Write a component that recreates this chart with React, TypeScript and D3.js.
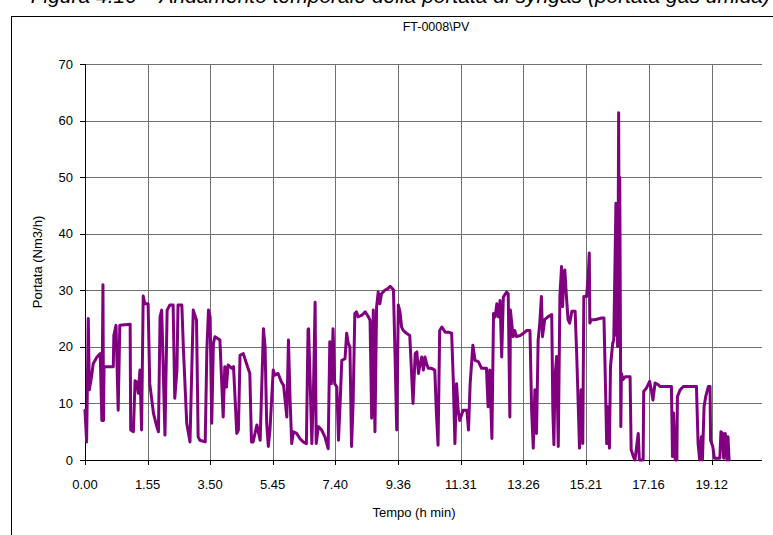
import * as d3 from "d3";

// time in minutes from start, flow in Nm3/h
const timeMin = [
  0, 3, 6, 8, 12, 15, 22, 28, 31, 33, 34, 35, 52, 53, 57, 61, 64, 83, 84, 89,
  92, 95, 98, 101, 104, 107, 110, 116, 119, 126, 132, 135, 138, 141, 147, 151,
  156, 162, 165, 169, 171, 178, 181, 187, 193, 199, 205, 208, 211, 221, 224,
  227, 230, 233, 236, 239, 248, 254, 257, 260, 263, 270, 273, 279, 282, 285,
  291, 297, 303, 306, 309, 316, 322, 328, 331, 334, 337, 340, 346, 349, 355,
  361, 365, 371, 374, 377, 380, 383, 389, 395, 401, 407, 410, 411, 414, 417,
  420, 423, 425, 429, 435, 441, 447, 450, 453, 456, 459, 463, 466, 469, 472,
  478, 481, 484, 487, 490, 493, 496, 499, 502, 509, 515, 521, 524, 527, 530,
  533, 536, 539, 542, 545, 551, 557, 561, 567, 570, 573, 576, 579, 582, 585,
  591, 597, 603, 607, 610, 613, 616, 619, 622, 625, 628, 631, 637, 643, 646,
  649, 652, 656, 662, 668, 674, 677, 680, 683, 686, 689, 695, 702, 705, 708,
  713, 717, 723, 729, 738, 741, 744, 748, 751, 754, 757, 760, 763, 766, 769,
  775, 778, 781, 782, 787, 790, 793, 800, 806, 812, 818, 821, 824, 827, 830,
  833, 836, 839, 841, 845, 852, 858, 860, 862, 864, 867, 870, 873, 876, 878,
  880, 882, 885, 888, 891, 895, 901, 904, 907, 909, 912, 915, 917, 922, 925,
  927, 928, 931, 937, 950, 954, 956, 959, 961, 964, 966, 970, 972, 974, 976,
  977, 978, 979, 980, 981, 982, 983, 985, 986, 989, 993, 1002, 1004, 1008,
  1011, 1014, 1017, 1019, 1026, 1027, 1032, 1038, 1041, 1044, 1048, 1054,
  1057, 1078, 1080, 1082, 1085, 1088, 1089, 1094, 1100, 1124, 1127, 1130,
  1133, 1135, 1138, 1141, 1146, 1149, 1150, 1154, 1157, 1167, 1169, 1172,
  1174, 1177, 1180, 1182, 1184,
];

const flow = [
  8.8, 3.2, 25, 12.4, 14.7, 17, 18.2, 18.8, 7, 31, 7, 16.5, 16.5, 22, 23.8,
  8.8, 23.8, 24, 5.3, 5, 14, 13.8, 11.8, 15.9, 5.3, 29, 27.6, 27.6, 13.5, 8.2,
  5.9, 5, 25.3, 26.5, 4.4, 26.5, 27.4, 27.4, 10.9, 15.9, 27.4, 27.4, 19.4, 6.5,
  3.2, 26.5, 24.7, 4.1, 3.5, 3.2, 19.4, 26.5, 25.3, 6.5, 20.6, 21.8, 21.2, 7.6,
  16.5, 12.9, 16.8, 16.2, 16.5, 4.7, 5.3, 18.5, 18.8, 17, 15.3, 3.2, 3.2, 6.2,
  3.5, 23.2, 20, 6.5, 2.4, 5.3, 15.9, 15, 15.3, 13.8, 13.2, 7.6, 21.2, 10.6,
  2.9, 5, 4.7, 3.8, 3.2, 2.9, 23, 23.2, 13.5, 2.9, 12.4, 27.9, 2.9, 5.9, 5.3,
  4.1, 2, 20.9, 13.5, 23.2, 13.5, 12.9, 3.5, 10, 17.6, 17.9, 22.4, 20.6, 20,
  2.4, 10.6, 25.9, 26.2, 25.3, 25.6, 26.2, 25.3, 24.7, 7.4, 26.5, 5, 27, 29.7,
  27.6, 29.4, 30, 30.3, 30.7, 30.1, 18.2, 5.3, 27.4, 26.2, 23.5, 22.9, 22.4,
  22, 10, 18.8, 19.1, 15.3, 17, 18.2, 15.9, 18.2, 17, 16.2, 16.2, 15.9, 8.2,
  2.6, 22.9, 23.5, 22.6, 22.6, 22.4, 14.1, 2.9, 13.5, 8.8, 7, 8.8, 8.8, 5.3,
  13.5, 20.3, 17.6, 17.4, 16.2, 16.2, 9.4, 15.9, 3.8, 25.9, 25.3, 27.6, 25.3,
  28.2, 18.2, 28.8, 29.7, 29.4, 7.6, 26.5, 21.8, 22.9, 21.8, 22, 22.4, 22.9,
  22.9, 8.8, 2.1, 12.4, 4.7, 21.2, 24.2, 28.9, 21.8, 24.8, 25.4, 25.7, 8.8,
  2.7, 14.7, 18.3, 2.4, 28.9, 34.2, 27.1, 32.4, 33.6, 28.9, 24.8, 24.2, 26.3,
  26.3, 18.3, 8.8, 2.1, 12.4, 2.9, 28.9, 28.9, 32.4, 36.6, 24.2, 24.8, 24.8,
  25.1, 25.1, 16.5, 2.9, 9.4, 2.1, 16.5, 20.6, 21.2, 33, 45.4, 22, 44, 20, 38,
  61.4, 30, 50, 5.9, 15.3, 14.2, 14.7, 14.7, 1.8, 0.6, 0, 2.4, 4.7, 0, 0, 12.1,
  12.7, 13.9, 12.4, 10.6, 13.6, 13.3, 13, 13, 0.6, 8.3, 0, 0, 11.2, 12.4, 13,
  13, 2.9, 0, 4.1, 0, 9.4, 11.2, 13, 13, 3.5, 2.4, 0.3, 0.3, 5, 4.7, 0.3, 4.7,
  0, 4.1, 0,
];

const xTickLabels = [
  "0.00", "1.55", "3.50", "5.45", "7.40", "9.36", "11.31", "13.26", "15.21",
  "17.16", "19.12",
];
const yTicks = [0, 10, 20, 30, 40, 50, 60, 70];

const W = 773;
const H = 535;
const margin = { l: 85, r: 11, t: 64, b: 75 };
const font = "'Liberation Sans', Arial, sans-serif";

// "h.mm" -> minutes
const toMin = (s: string) => {
  const [h, m] = s.split(".");
  return +h * 60 + +m;
};

export default function App() {
  const x = d3
    .scaleLinear()
    .domain([0, 1244.5])
    .range([margin.l, W - margin.r]);
  const y = d3
    .scaleLinear()
    .domain([0, 70])
    .range([H - margin.b, margin.t]);

  const data = timeMin.map((t, i) => ({ t, v: flow[i] }));
  const lineGen = d3
    .line<{ t: number; v: number }>()
    .x((d) => x(d.t))
    .y((d) => y(d.v));

  const x0 = x.range()[0];
  const x1 = x.range()[1];
  const yb = y(0);
  const yt = y(70);

  return (
    <svg
      width={W}
      height={H}
      style={{ position: "absolute", left: 0, top: 0, background: "#fff" }}
      fontFamily={font}
    >
      <rect x={0} y={0} width={W} height={H} fill="#fff" />
      {/* caption, cut off by the page edge */}
      <text x={770} y={3} fontSize={21} fontStyle="italic" textAnchor="end" fill="#000">
        Figura 4.10 – Andamento temporale della portata di syngas (portata gas umida)
      </text>
      {/* chart frame */}
      <rect
        x={11.5}
        y={16.5}
        width={W + 10}
        height={H + 10}
        fill="none"
        stroke="#000"
        strokeWidth={1}
      />
      <text x={436} y={31} fontSize={12.5} textAnchor="middle">
        FT-0008\PV
      </text>

      {/* grid */}
      <g stroke="#707070" strokeWidth={1}>
        {yTicks
          .filter((d) => d > 0)
          .map((d) => (
            <line
              key={"h" + d}
              x1={x0}
              x2={x1}
              y1={Math.round(y(d)) + 0.5}
              y2={Math.round(y(d)) + 0.5}
            />
          ))}
        {xTickLabels.slice(1).map((s) => (
          <line
            key={"v" + s}
            x1={Math.round(x(toMin(s))) + 0.5}
            x2={Math.round(x(toMin(s))) + 0.5}
            y1={yt}
            y2={yb}
          />
        ))}
      </g>

      {/* axes */}
      <g stroke="#000" strokeWidth={1}>
        <line x1={x0 + 0.5} x2={x0 + 0.5} y1={yt} y2={yb + 5} />
        <line x1={x0 - 5} x2={x1} y1={Math.round(yb) + 0.5} y2={Math.round(yb) + 0.5} />
        {yTicks.map((d) => (
          <line
            key={"yt" + d}
            x1={x0 - 5}
            x2={x0}
            y1={Math.round(y(d)) + 0.5}
            y2={Math.round(y(d)) + 0.5}
          />
        ))}
        {xTickLabels.map((s) => (
          <line
            key={"xt" + s}
            x1={Math.round(x(toMin(s))) + 0.5}
            x2={Math.round(x(toMin(s))) + 0.5}
            y1={yb}
            y2={yb + 5}
          />
        ))}
      </g>

      {/* tick labels */}
      <g fontSize={13} fill="#000">
        {yTicks.map((d) => (
          <text
            key={"yl" + d}
            x={x0 - 12}
            y={y(d)}
            dy="0.35em"
            textAnchor="end"
          >
            {d}
          </text>
        ))}
        {xTickLabels.map((s) => (
          <text
            key={"xl" + s}
            x={x(toMin(s))}
            y={yb + 29}
            textAnchor="middle"
          >
            {s}
          </text>
        ))}
      </g>

      <text x={414} y={517} fontSize={13} textAnchor="middle">
        Tempo (h min)
      </text>
      <text
        transform={`translate(42,${(yt + yb) / 2}) rotate(-90)`}
        fontSize={13}
        textAnchor="middle"
      >
        Portata (Nm3/h)
      </text>

      <path
        d={lineGen(data) || ""}
        fill="none"
        stroke="#800080"
        strokeWidth={3}
        strokeLinejoin="round"
        strokeLinecap="round"
      />
    </svg>
  );
}
